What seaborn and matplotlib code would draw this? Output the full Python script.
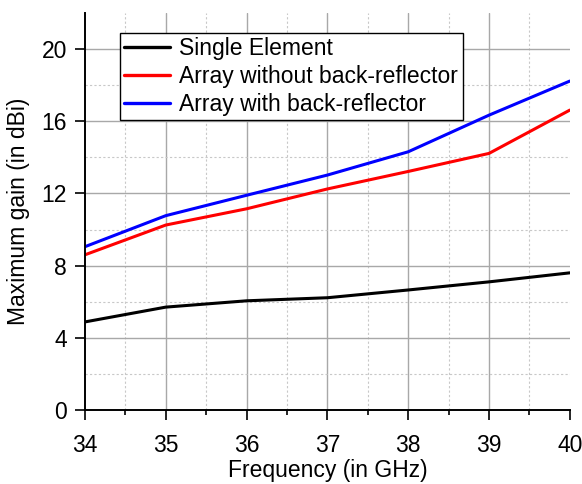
"""Maximum gain versus frequency for single element and arrays."""
import matplotlib
matplotlib.use('Agg')
import matplotlib.pyplot as plt
from matplotlib.ticker import FixedLocator, MultipleLocator
import pandas as pd
import seaborn as sns

freq = [34, 35, 36, 37, 38, 39, 40]
single = [4.88, 5.7, 6.05, 6.22, 6.65, 7.1, 7.6]
array_no_ref = [8.6, 10.25, 11.15, 12.25, 13.22, 14.22, 16.62]
array_ref = [9.05, 10.77, 11.9, 13.02, 14.31, 16.34, 18.23]
names = ['Single Element', 'Array without back-reflector',
         'Array with back-reflector']
colors = ['black', '#ff0000', '#0000ff']


def build_frame():
    """Long-form table for seaborn."""
    rows = []
    for name, vals in zip(names, [single, array_no_ref, array_ref]):
        for f, v in zip(freq, vals):
            rows.append({'freq': f, 'gain': v, 'series': name})
    return pd.DataFrame(rows)


def main():
    sns.set_style('white')
    plt.rcParams['font.family'] = ['Liberation Sans', 'DejaVu Sans']
    for key in ['text.color', 'axes.labelcolor', 'xtick.color',
                'ytick.color']:
        plt.rcParams[key] = 'black'
    df = build_frame()
    fs = 16.5

    fig = plt.figure(figsize=(5.82, 4.84), dpi=100)
    ax = fig.add_axes([0.146, 0.153, 0.833, 0.82])
    sns.lineplot(data=df, x='freq', y='gain', hue='series',
                 hue_order=names, palette=colors, linewidth=2.2, ax=ax)

    ax.set_xlim(34, 40)
    ax.set_ylim(0, 22)
    ax.xaxis.set_major_locator(MultipleLocator(1))
    ax.xaxis.set_minor_locator(MultipleLocator(0.5))
    ax.yaxis.set_major_locator(MultipleLocator(4))
    ax.yaxis.set_minor_locator(FixedLocator([2, 6, 10, 14, 18]))
    ax.grid(which='major', color='#a8a8a8', linewidth=1.0, linestyle='-')
    ax.grid(which='minor', color='#c8c8c8', linewidth=0.8, linestyle=(0, (2, 2)))
    ax.set_axisbelow(True)

    for s in ['top', 'right']:
        ax.spines[s].set_visible(False)
    for s in ['left', 'bottom']:
        ax.spines[s].set_color('black')
        ax.spines[s].set_linewidth(1.4)

    ax.tick_params(axis='both', which='major', direction='out', length=7,
                   width=1.2, color='black', labelcolor='black',
                   labelsize=fs, pad=6)
    ax.tick_params(axis='x', which='major', pad=10)
    ax.tick_params(axis='x', which='minor', direction='out', length=3.5,
                   width=1.2, color='black')
    ax.tick_params(axis='y', which='minor', length=0)
    ax.tick_params(axis='x', which='both', bottom=True)
    ax.tick_params(axis='y', which='major', left=True)

    ax.set_xlabel('Frequency (in GHz)', fontsize=fs, labelpad=2,
                  color='black')
    ax.set_ylabel('Maximum gain (in dBi)', fontsize=fs, labelpad=8,
                  color='black')

    leg = ax.legend(loc='upper left', bbox_to_anchor=(0.072, 0.95),
                    borderaxespad=0, fontsize=fs, frameon=True,
                    fancybox=False, handlelength=2.0, handletextpad=0.4,
                    labelspacing=0.2, borderpad=0.2, title=None)
    leg.get_frame().set_edgecolor('black')
    leg.get_frame().set_linewidth(1.0)
    leg.get_frame().set_alpha(1)
    for line in leg.get_lines():
        line.set_linewidth(2.4)
    for txt in leg.get_texts():
        txt.set_color('black')

    # no gridline on the plot edges
    fig.canvas.draw()
    for tick in ax.xaxis.get_major_ticks():
        if tick.get_loc() in (34, 40):
            tick.gridline.set_visible(False)
    for tick in ax.yaxis.get_major_ticks():
        if tick.get_loc() == 0:
            tick.gridline.set_visible(False)

    fig.savefig('out.png', dpi=100)


if __name__ == '__main__':
    main()
